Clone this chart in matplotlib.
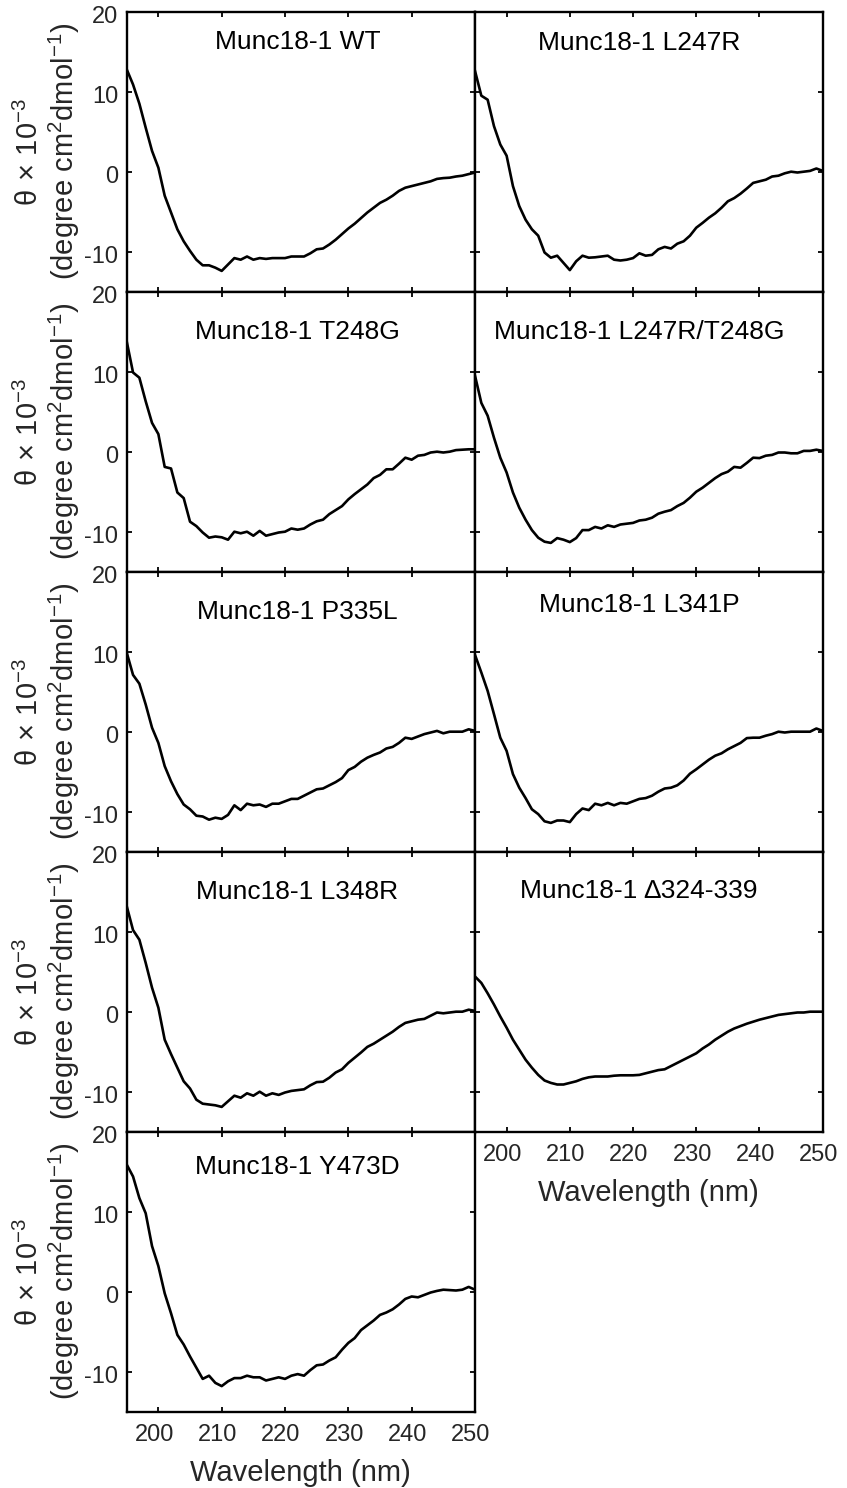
import matplotlib.pyplot as plt
import numpy as np
from matplotlib.transforms import ScaledTranslation

plt.rcParams["font.family"] = ["Liberation Sans", "DejaVu Sans"]
plt.rcParams["mathtext.fontset"] = "custom"
plt.rcParams["mathtext.rm"] = "Liberation Sans"
plt.rcParams["mathtext.it"] = "Liberation Sans:italic"
plt.rcParams["axes.unicode_minus"] = False

wavelength = np.arange(195, 251)

wt = [12.8, 10.9, 8.5, 5.5, 2.6, 0.5, -3.0, -5.1, -7.2, -8.7,
      -9.9, -11.0, -11.7, -11.7, -12.0, -12.4, -11.6, -10.8, -11.0, -10.6,
      -11.0, -10.8, -10.9, -10.8, -10.8, -10.8, -10.6, -10.6, -10.6, -10.2,
      -9.7, -9.6, -9.1, -8.5, -7.8, -7.1, -6.5, -5.8, -5.1, -4.5,
      -3.9, -3.5, -3.0, -2.4, -2.0, -1.8, -1.6, -1.4, -1.2, -0.9,
      -0.8, -0.75, -0.6, -0.5, -0.3, -0.1]
l247r = [12.6, 9.5, 9.0, 5.7, 3.4, 2.0, -1.8, -4.3, -6.0, -7.2,
         -8.0, -10.1, -10.75, -10.5, -11.4, -12.3, -11.2, -10.5, -10.75, -10.7,
         -10.6, -10.5, -11.0, -11.1, -11.0, -10.8, -10.2, -10.5, -10.4, -9.7,
         -9.4, -9.6, -9.0, -8.7, -8.0, -7.0, -6.4, -5.75, -5.2, -4.5,
         -3.7, -3.3, -2.75, -2.1, -1.4, -1.2, -1.0, -0.6, -0.5, -0.2,
         0.0, -0.1, 0.0, 0.1, 0.4, 0.1]
t248g = [13.8, 9.9, 9.25, 6.3, 3.6, 2.2, -1.9, -2.1, -5.1, -5.8,
         -8.75, -9.3, -10.1, -10.75, -10.6, -10.7, -11.0, -10.0, -10.2, -10.0,
         -10.5, -9.9, -10.5, -10.3, -10.1, -10.0, -9.6, -9.75, -9.6, -9.1,
         -8.7, -8.5, -7.8, -7.3, -6.8, -5.96, -5.3, -4.7, -4.1, -3.3,
         -2.9, -2.2, -2.2, -1.5, -0.75, -1.0, -0.5, -0.4, -0.1, 0.0,
         -0.1, 0.0, 0.2, 0.25, 0.3, 0.3]
l247r_t248g = [9.5, 6.1, 4.5, 1.75, -0.75, -2.6, -5.1, -7.0, -8.5, -9.8,
               -10.75, -11.25, -11.4, -10.8, -11.0, -11.3, -10.8, -9.8, -9.8, -9.4,
               -9.6, -9.2, -9.4, -9.1, -9.0, -8.9, -8.6, -8.5, -8.25, -7.75,
               -7.5, -7.3, -6.8, -6.4, -5.75, -5.0, -4.5, -3.9, -3.3, -2.8,
               -2.5, -1.9, -2.0, -1.4, -0.75, -0.8, -0.5, -0.4, -0.1, -0.1,
               -0.2, -0.2, 0.1, 0.1, 0.25, 0.1]
p335l = [9.9, 7.1, 6.0, 3.4, 0.5, -1.4, -4.3, -6.2, -7.8, -9.1,
         -9.7, -10.5, -10.6, -11.0, -10.75, -10.9, -10.4, -9.2, -9.8, -9.0,
         -9.2, -9.1, -9.4, -9.0, -9.0, -8.7, -8.4, -8.4, -8.0, -7.6,
         -7.2, -7.1, -6.7, -6.3, -5.8, -4.8, -4.4, -3.75, -3.25, -2.9,
         -2.6, -2.1, -1.9, -1.4, -0.75, -0.9, -0.6, -0.3, -0.1, 0.1,
         -0.2, 0.0, 0.0, 0.0, 0.3, 0.1]
l341p = [9.6, 7.4, 5.1, 2.2, -0.75, -2.4, -5.3, -7.0, -8.3, -9.7,
         -10.3, -11.2, -11.4, -11.1, -11.1, -11.3, -10.3, -9.6, -9.8, -9.0,
         -9.2, -8.9, -9.2, -8.9, -9.0, -8.7, -8.4, -8.3, -8.0, -7.5,
         -7.1, -7.0, -6.7, -6.1, -5.25, -4.7, -4.1, -3.5, -3.0, -2.7,
         -2.2, -1.8, -1.4, -0.8, -0.75, -0.75, -0.5, -0.3, 0.0, -0.1,
         0.0, 0.0, 0.0, 0.0, 0.4, 0.1]
l348r = [13.2, 10.2, 9.0, 6.1, 3.0, 0.5, -3.5, -5.3, -7.0, -8.7,
         -9.6, -11.0, -11.5, -11.6, -11.7, -11.9, -11.2, -10.5, -10.75, -10.2,
         -10.5, -10.0, -10.5, -10.2, -10.4, -10.1, -9.9, -9.8, -9.7, -9.2,
         -8.8, -8.75, -8.25, -7.6, -7.2, -6.4, -5.75, -5.1, -4.4, -4.0,
         -3.5, -3.0, -2.5, -1.9, -1.4, -1.2, -1.0, -0.9, -0.5, -0.1,
         -0.2, -0.1, 0.0, 0.0, 0.25, 0.1]
d324_339 = [4.4, 3.6, 2.3, 0.9, -0.6, -2.0, -3.5, -4.75, -6.0, -7.0,
            -7.9, -8.6, -8.9, -9.1, -9.1, -8.9, -8.7, -8.4, -8.2, -8.1,
            -8.1, -8.1, -8.0, -7.95, -7.95, -7.95, -7.9, -7.7, -7.5, -7.3,
            -7.2, -6.8, -6.4, -6.0, -5.6, -5.2, -4.6, -4.1, -3.5, -3.0,
            -2.5, -2.1, -1.8, -1.5, -1.25, -1.0, -0.8, -0.6, -0.4, -0.3,
            -0.2, -0.1, -0.1, 0.0, 0.0, 0.0]
y473d = [15.9, 14.4, 11.7, 9.8, 5.7, 3.2, -0.2, -2.7, -5.4, -6.6,
         -8.1, -9.5, -10.9, -10.5, -11.4, -11.8, -11.2, -10.8, -10.8, -10.5,
         -10.7, -10.7, -11.1, -10.9, -10.7, -10.9, -10.5, -10.3, -10.5, -9.8,
         -9.2, -9.1, -8.6, -8.2, -7.25, -6.4, -5.8, -4.8, -4.2, -3.6,
         -2.9, -2.6, -2.2, -1.6, -0.9, -0.6, -0.7, -0.4, -0.1, 0.1,
         0.25, 0.2, 0.15, 0.25, 0.6, 0.25]

names = ["Munc18-1 WT", "Munc18-1 L247R", "Munc18-1 T248G",
         "Munc18-1 L247R/T248G", "Munc18-1 P335L", "Munc18-1 L341P",
         "Munc18-1 L348R", "Munc18-1 \u2206324-339", "Munc18-1 Y473D"]
curves = [wt, l247r, t248g, l247r_t248g, p335l, l341p, l348r, d324_339, y473d]

x_ticks = [200, 210, 220, 230, 240, 250]
y_ticks = [-10, 0, 10, 20]

# layout in pixels of the 847x1488 canvas
W, H = 847, 1488
col_left = [126.7, 475.0]
col_width = [348.3, 347.7]
row_top = [11.7, 291.7, 571.7, 851.7, 1131.7]
row_h = 280.0
title_x = [0.49, 0.472]
title_y = [0.892, 0.887, 0.857, 0.857, 0.857, 0.882, 0.855, 0.861, 0.873]

fig = plt.figure(figsize=(W / 100, H / 100), dpi=100)
down = ScaledTranslation(0, -0.03, fig.dpi_scale_trans)
left = ScaledTranslation(-0.04, 0, fig.dpi_scale_trans)

ylab = "\u03b8$\\,\\times\\,$10$^{-3}$\n(degree cm$^{2}$dmol$^{-1}$)"

for i, (name, vals) in enumerate(zip(names, curves)):
    row, col = divmod(i, 2)
    ax = fig.add_axes([col_left[col] / W, 1 - (row_top[row] + row_h) / H,
                       col_width[col] / W, row_h / H])
    ax.plot(wavelength, vals, color="black", lw=1.9)
    ax.set_xlim(195, 250)
    ax.set_ylim(-15, 20)
    ax.set_xticks(x_ticks)
    ax.set_yticks(y_ticks)
    ax.tick_params(direction="in", top=True, right=True, length=3.5, width=1.3,
                   labelsize=17, labelcolor="#262626")
    ax.tick_params(axis="x", pad=9)
    ax.tick_params(axis="y", pad=6)
    for s in ax.spines.values():
        s.set_linewidth(1.7)

    last = row == 4 or (row == 3 and col == 1)
    if last:
        ax.set_xlabel("Wavelength (nm)", fontsize=21, color="#262626", labelpad=9)
        for lab in ax.get_xticklabels():
            lab.set_transform(lab.get_transform() + left)
    else:
        ax.tick_params(labelbottom=False)

    if col == 0:
        ax.set_ylabel(ylab, fontsize=21, color="#262626", va="center",
                      linespacing=1.1)
        ax.yaxis.set_label_coords(-0.2245, 0.5)
        for lab in ax.get_yticklabels():
            lab.set_transform(lab.get_transform() + down)
    else:
        ax.tick_params(labelleft=False)

    ax.text(title_x[col], title_y[i], name, transform=ax.transAxes,
            ha="center", va="center", fontsize=19, color="black")

fig.savefig("out.png", dpi=100)
